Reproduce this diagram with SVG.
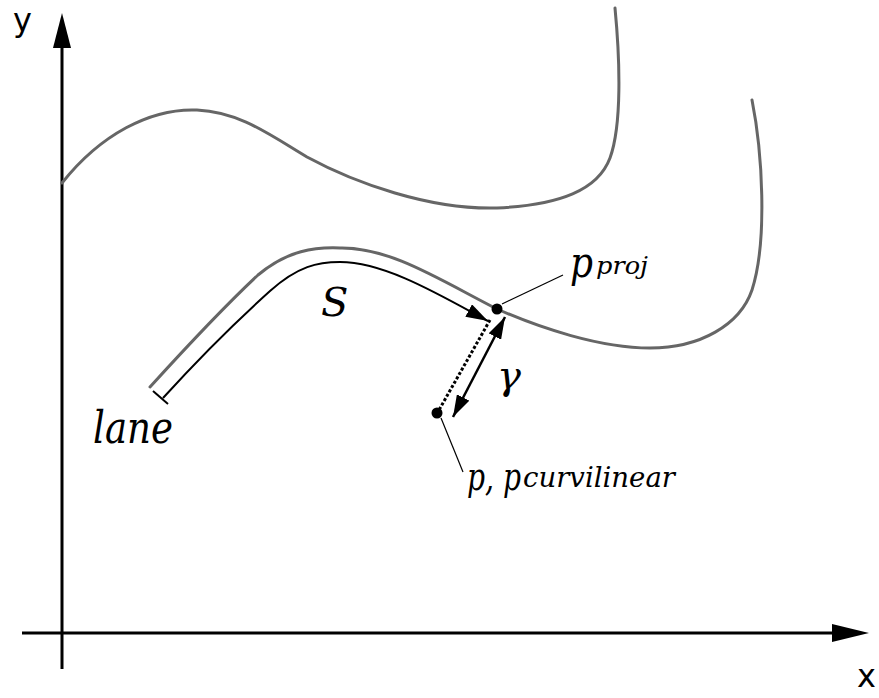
<svg xmlns="http://www.w3.org/2000/svg" width="879" height="698" viewBox="0 0 879 698">
<style>
.axis{stroke:#000;stroke-width:3;fill:none}
.road{stroke:#666;stroke-width:3;fill:none;stroke-linecap:round}
.blk{stroke:#000;fill:none}
.lbl{font-family:"DejaVu Serif","Liberation Serif",serif;font-style:italic;fill:#000}
.ax{font-family:"DejaVu Sans","Liberation Sans",sans-serif;fill:#000}
</style>
<defs>
<marker id="ah" markerUnits="userSpaceOnUse" viewBox="0 0 22 14" refX="22" refY="7" markerWidth="22" markerHeight="14" orient="auto-start-reverse">
<path d="M0,0 L22,7 L0,14 Z" fill="#000"/>
</marker>
</defs>
<rect width="879" height="698" fill="#fff"/>
<g id="axes">
<line class="axis" x1="62" y1="669" x2="62" y2="46"/>
<polygon points="62,13 53,48 71,48" fill="#000"/>
<line class="axis" x1="22" y1="633" x2="834" y2="633"/>
<polygon points="869,633 832,624 832,642" fill="#000"/>
<text class="ax" x="13" y="31" font-size="32">y</text>
<text class="ax" x="857" y="687" font-size="32">x</text>
</g>
<g id="upper-boundary">
<path class="road" d="M62,183 C100,135 150,108 197,110 C240,112 270,135 307,157 C355,183 430,210 497,208 C560,205 598,190 610,158 C622,125 620,60 615,8"/>
</g>
<g id="lane">
<path class="road" d="M150,387 C190,343 228,303 258,275 C288,250 315,247 340,248 C390,247 440,280 497,309 C540,328 600,348 650,348 C700,348 740,325 752,290 C768,240 762,150 752,100"/>
<line class="blk" stroke-width="2" x1="153" y1="391" x2="168" y2="404"/>
<text class="lbl" x="93" y="443" font-size="44" textLength="80" lengthAdjust="spacingAndGlyphs">lane</text>
</g>
<g id="connectors">
<path class="blk" stroke-width="2" d="M163,398 C202,355 240,318 270,291 C298,266 318,262 340,262 C385,262 440,295 488,321" marker-end="url(#ah)"/>
<line class="blk" stroke-width="3" stroke-dasharray="3,2" x1="490" y1="320" x2="439" y2="410"/>
<line class="blk" stroke-width="2.5" x1="505" y1="317" x2="453" y2="417" marker-start="url(#ah)" marker-end="url(#ah)"/>
<line class="blk" stroke-width="1.2" x1="502" y1="304" x2="563" y2="275"/>
<line class="blk" stroke-width="1.2" x1="441" y1="418" x2="463" y2="472"/>
</g>
<g id="p-proj">
<circle cx="497" cy="309" r="5.5" fill="#000"/>
<text class="lbl" x="570" y="277" font-size="42"><tspan textLength="23" lengthAdjust="spacingAndGlyphs">p</tspan><tspan x="596" y="274" font-size="25" textLength="52" lengthAdjust="spacingAndGlyphs">proj</tspan></text>
</g>
<g id="p">
<circle cx="437" cy="413" r="5.5" fill="#000"/>
<text class="lbl" x="467" y="490" font-size="40"><tspan textLength="54" lengthAdjust="spacingAndGlyphs">p, p</tspan><tspan x="523" y="487" font-size="27" textLength="152" lengthAdjust="spacingAndGlyphs">curvilinear</tspan></text>
</g>
<g id="labels">
<text class="lbl" x="321" y="316" font-size="40">S</text>
<text class="lbl" x="497" y="389" font-size="40">γ</text>
</g>
</svg>
